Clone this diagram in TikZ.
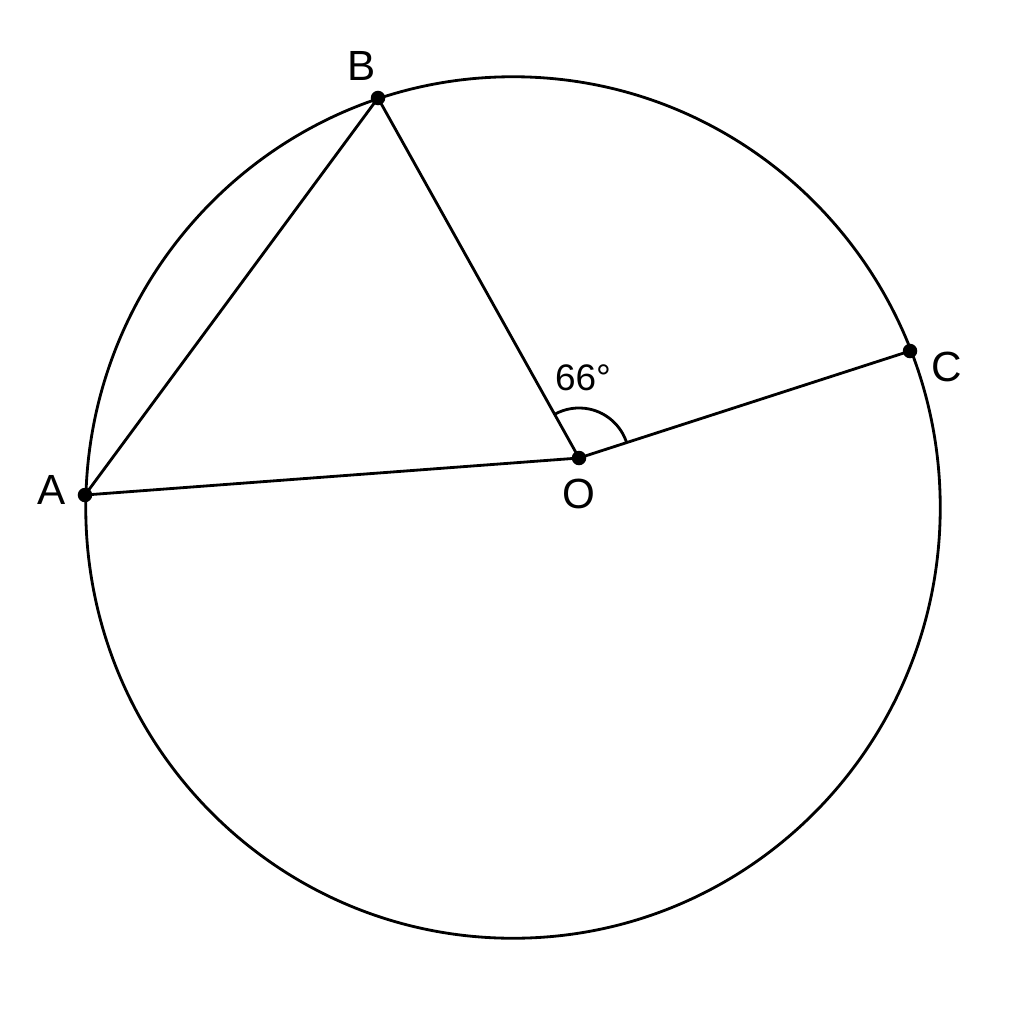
\documentclass[tikz,border=0pt]{standalone}
\usepackage{fontspec}
\setmainfont{Liberation Sans}
\begin{document}
\begin{tikzpicture}[x=0.01cm,y=-0.01cm,
  geo/.style={line width=0.8pt,black},
  dot/.style={circle,fill=black,inner sep=0pt,minimum size=0.145cm},
  lbl/.style={font=\fontsize{12}{14}\selectfont,inner sep=0pt}]
\useasboundingbox (0,0) rectangle (1024,1024);
\fill[white] (0,0) rectangle (1024,1024);
\draw[geo] (513,507.5) ellipse [x radius=427cm/100, y radius=430.5cm/100];
\coordinate (Ac) at (85,495);
\coordinate (Bc) at (378,98);
\coordinate (Cc) at (910,351);
\coordinate (Oc) at (579,458);
\draw[geo] (Ac) -- (Bc) -- (Oc) -- (Cc);
\draw[geo] (Ac) -- (Oc);
\draw[geo] (Oc) ++(17.9:0.5cm) arc[start angle=17.9,end angle=119.2,radius=0.5cm];
\node[dot] (A) at (Ac) {};
\node[dot] (B) at (Bc) {};
\node[dot] (C) at (Cc) {};
\node[dot] (O) at (Oc) {};
\node[lbl] (la) at (52,490) {A};
\node[lbl] (lb) at (362,66) {B};
\node[lbl] (lc) at (947,367) {C};
\node[lbl] (lo) at (579,494) {O};
\node[lbl,font=\fontsize{10.5}{12}\selectfont] (ang) at (583,378) {66°};
\end{tikzpicture}
\end{document}
